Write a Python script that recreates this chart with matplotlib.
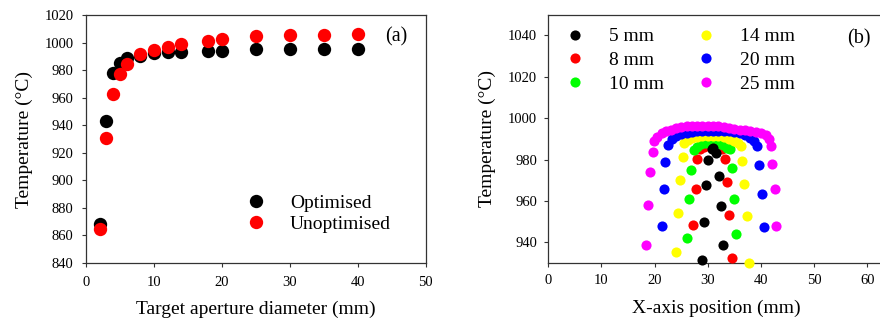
import matplotlib
matplotlib.use("Agg")
import matplotlib.pyplot as plt

plt.rcParams['font.family'] = ['Liberation Serif', 'DejaVu Serif']

# ---------------- (a) data ----------------
aperture = [2, 3, 4, 5, 6, 8, 10, 12, 14, 18, 20, 25, 30, 35, 40]
optimised = [868, 943, 978, 985, 988.5, 990.5, 992.2, 993.4, 993.4, 994.1, 994.1, 995, 995, 995, 995.5]
unoptimised = [865, 931, 963, 977, 984.5, 991.5, 994.6, 997, 998.9, 1001.4, 1002.4, 1005, 1005.6, 1005.6, 1006]

# ---------------- (b) data ----------------
series_labels = ["5 mm", "8 mm", "10 mm", "14 mm", "20 mm", "25 mm"]
series_colors = ["#000000", "#ff0000", "#00ff00", "#ffff00", "#0000ff", "#ff00ff"]

x_5 = [28.9, 29.25, 29.7, 30.1, 30.7, 31.0, 31.45, 32.1, 32.45, 32.8]
t_5 = [931.3, 949.7, 967.5, 979.6, 985.3, 985.8, 983.2, 972.2, 957.4, 938.6]

x_8 = [27.3, 27.7, 28.05, 28.6, 29.2, 29.9, 30.6, 31.3, 32.0, 32.7, 33.3, 33.7, 34.05, 34.5]
t_8 = [948.4, 965.8, 980.3, 985.0, 986.3, 987.1, 987.5, 987.3, 986.6, 985.0, 980.4, 969.3, 953.0, 932.6]

x_10 = [26.0, 26.5, 26.9, 27.4, 28.0, 28.8, 29.6, 30.4, 31.2, 32.0, 32.8, 33.6, 34.2, 34.5, 34.9, 35.3]
t_10 = [942.0, 961.0, 975.0, 984.8, 986.3, 987.4, 988.0, 988.2, 988.0, 987.6, 986.8, 985.8, 985.2, 975.9, 961.1, 943.8]

x_14 = [24.0, 24.4, 24.85, 25.3, 25.6, 26.2, 27.0, 28.0, 29.0, 30.0, 31.0, 32.0, 33.0, 34.0, 35.0, 35.7,
        36.2, 36.5, 36.9, 37.3, 37.7]
t_14 = [935.5, 954.2, 970.3, 981.1, 988.0, 989.3, 990.3, 991.0, 991.4, 991.6, 991.5, 991.2, 990.7, 990.0,
        989.0, 987.8, 986.4, 979.1, 968.4, 952.6, 930.0]

x_20 = [21.3, 21.7, 22.0, 22.45, 23.2, 24.0, 25.0, 26.0, 27.0, 28.0, 29.0, 30.0, 31.0, 32.0, 33.0, 34.0,
        35.0, 36.0, 37.0, 38.0, 38.7, 39.3, 39.7, 40.1, 40.6]
t_20 = [948.1, 966.0, 978.8, 987.2, 989.8, 991.3, 992.3, 993.0, 993.5, 993.8, 994.0, 994.0, 994.0, 994.0,
        993.9, 993.7, 993.2, 992.6, 991.8, 990.6, 989.0, 986.4, 977.5, 963.5, 947.4]

x_25 = [18.4, 18.8, 19.2, 19.6, 19.9, 20.5, 21.3, 22.2, 23.1, 24.0, 25.0, 26.0, 27.0, 28.0, 29.0, 30.0,
        31.0, 32.0, 33.0, 34.0, 35.0, 36.0, 37.0, 38.0, 39.0, 40.0, 40.9, 41.5, 41.8, 42.15, 42.6, 42.9]
t_25 = [938.6, 957.9, 973.8, 983.5, 988.8, 991.0, 992.6, 993.7, 994.5, 995.1, 995.6, 996.0, 996.2, 996.4,
        996.4, 996.4, 996.2, 996.0, 995.7, 995.3, 994.9, 994.5, 994.1, 993.7, 993.3, 992.9, 992.0, 990.0,
        986.4, 978.0, 965.8, 947.7]

series_x = [x_5, x_8, x_10, x_14, x_20, x_25]
series_t = [t_5, t_8, t_10, t_14, t_20, t_25]

W, H = 880, 322
fig = plt.figure(figsize=(8.8, 3.22), dpi=100)

spine_col = "#333333"
tick_fs = 10.5
lab_fs = 14


def style_axes(ax):
    for s in ax.spines.values():
        s.set_color(spine_col)
        s.set_linewidth(0.9)
    ax.tick_params(direction='out', length=3, width=0.8, color=spine_col,
                   labelsize=tick_fs, pad=6, top=False, right=False)


# ---------------- panel (a) ----------------
axa = fig.add_axes([86 / W, (H - 263) / H, 339.7 / W, 248 / H])
axa.plot(aperture, optimised, 'o', color='black', markersize=9.6, markeredgewidth=0,
         label='Optimised', zorder=3)
axa.plot(aperture, unoptimised, 'o', color='#ff0000', markersize=9.6, markeredgewidth=0,
         label='Unoptimised', zorder=4)
axa.set_xlim(0, 50)
axa.set_ylim(840, 1020)
axa.set_xticks(range(0, 51, 10))
axa.set_yticks(range(840, 1021, 20))
style_axes(axa)
axa.set_xlabel('Target aperture diameter (mm)', fontsize=lab_fs, labelpad=9)
axa.set_ylabel('Temperature (°C)', fontsize=lab_fs)
axa.yaxis.set_label_coords(-0.155, 0.5)
axa.text(0.913, 0.911, '(a)', transform=axa.transAxes, fontsize=14.5,
         ha='center', va='center')
axa.legend(loc='center left', bbox_to_anchor=(0.4433, 0.1996), frameon=False,
           fontsize=14, handlelength=2.0, handletextpad=0.75, labelspacing=0.2,
           borderpad=0, borderaxespad=0)

# ---------------- panel (b) ----------------
axb = fig.add_axes([548.3 / W, (H - 263) / H, 336.4 / W, 248.3 / H])
for i, (xs, ts, lab, col) in enumerate(zip(series_x, series_t, series_labels, series_colors)):
    z = 10 if i == 0 else 3 + i
    axb.plot(xs, ts, 'o', color=col, markersize=7.3, markeredgewidth=0, label=lab,
             zorder=z, clip_on=False)
axb.set_xlim(0, 63.27)
axb.set_ylim(930, 1050)
axb.set_xticks(range(0, 61, 10))
axb.set_yticks(range(940, 1041, 20))
style_axes(axb)
axb.tick_params(pad=5)
axb.set_xlabel('X-axis position (mm)', fontsize=lab_fs, labelpad=9)
axb.set_ylabel('Temperature (°C)', fontsize=lab_fs)
axb.yaxis.set_label_coords(-0.155, 0.5)
axb.text(0.922, 0.902, '(b)', transform=axb.transAxes, fontsize=14.5,
         ha='center', va='center')
axb.legend(loc='center left', bbox_to_anchor=(0.0217, 0.817), frameon=False, ncol=2,
           fontsize=14, handlelength=2.0, handletextpad=0.75, labelspacing=0.31,
           columnspacing=1.17, borderpad=0, borderaxespad=0)

fig.savefig('out.png', dpi=100)
